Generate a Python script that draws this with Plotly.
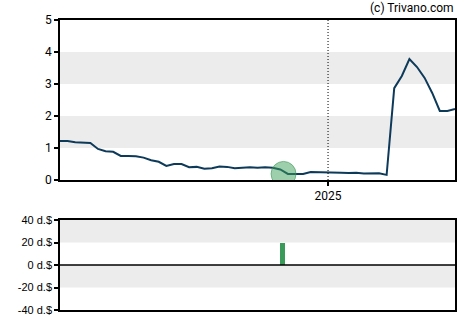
import plotly.graph_objects as go
import pandas as pd

start = "2024-04-29"
prices = [1.22, 1.22, 1.18, 1.16, 1.16, 0.97, 0.90, 0.88, 0.75, 0.75,
          0.74, 0.70, 0.62, 0.57, 0.44, 0.50, 0.50, 0.40, 0.41, 0.35,
          0.37, 0.42, 0.41, 0.37, 0.38, 0.40, 0.38, 0.40, 0.38, 0.33,
          0.19, 0.19, 0.19, 0.25, 0.25, 0.25, 0.24, 0.23, 0.22, 0.23,
          0.20, 0.21, 0.21, 0.16, 2.87, 3.25, 3.78, 3.53, 3.19, 2.72,
          2.16, 2.16, 2.22]
dates = pd.date_range(start, periods=len(prices), freq="7D")

marker_date = ["2024-11-21"]
marker_value = [0.19]
bar_dates = ["2024-11-20"]
bar_values = [20]
year_label = "2025"
year_date = "2025-01-01"

W, H = 470, 325
x0d, x1d = 60 / W, 455 / W
top_dom = [(H - 180) / H, (H - 20) / H]
bot_dom = [(H - 310) / H, (H - 220) / H]
xrange = [dates[0], dates[-1]]

fig = go.Figure()
fig.add_trace(go.Scatter(x=dates, y=prices, mode="lines",
                         line=dict(color="#0e3a5a", width=2), xaxis="x", yaxis="y",
                         hoverinfo="skip"))
fig.add_trace(go.Scatter(x=pd.to_datetime(marker_date), y=marker_value, mode="markers",
                         marker=dict(size=25, color="rgba(60,160,90,0.5)",
                                     line=dict(color="rgba(60,150,85,0.6)", width=1)),
                         xaxis="x", yaxis="y"))
fig.add_trace(go.Bar(x=pd.to_datetime(bar_dates), y=bar_values, width=4.3 * 86400000,
                     marker=dict(color="#3a9a5a", line=dict(width=0)),
                     xaxis="x2", yaxis="y2"))

shapes = []
for a, b in [(1, 2), (3, 4)]:
    shapes.append(dict(type="rect", xref="x domain", yref="y", x0=0, x1=1, y0=a, y1=b,
                       fillcolor="#ececec", line=dict(width=0), layer="below"))
for a, b in [(20, 40), (-20, 0)]:
    shapes.append(dict(type="rect", xref="x2 domain", yref="y2", x0=0, x1=1, y0=a, y1=b,
                       fillcolor="#ececec", line=dict(width=0), layer="below"))
shapes.append(dict(type="line", xref="x", yref="y domain", x0=year_date, x1=year_date,
                   y0=0, y1=1, line=dict(color="#000", width=1, dash="1px,2px")))
shapes.append(dict(type="line", xref="x2 domain", yref="y2", x0=0, x1=1, y0=0, y1=0,
                   line=dict(color="#000", width=1.5)))

axis_common = dict(showline=True, linecolor="#000", linewidth=1.5, mirror=True,
                   showgrid=False, zeroline=False, automargin=False)

fig.update_layout(
    template="none",
    width=W, height=H, margin=dict(l=0, r=0, t=0, b=0, pad=0),
    paper_bgcolor="white", plot_bgcolor="white", showlegend=False,
    font=dict(family="Roboto", size=12, color="#000"),
    shapes=shapes,
    xaxis=dict(domain=[x0d, x1d], anchor="y", range=xrange, tickvals=[year_date],
               ticktext=[year_label], ticks="outside", ticklen=4, tickwidth=1.5,
               tickcolor="#000", tickfont=dict(size=12), **axis_common),
    yaxis=dict(domain=top_dom, anchor="x", range=[0, 5], tickvals=[0, 1, 2, 3, 4, 5],
               ticks="outside", ticklen=4, tickwidth=1.5, tickcolor="#000",
               tickfont=dict(size=12), **axis_common),
    xaxis2=dict(domain=[x0d, x1d], anchor="y2", range=xrange, showticklabels=False,
                ticks="", **axis_common),
    yaxis2=dict(domain=bot_dom, anchor="x2", range=[-40, 40],
                tickvals=[-40, -20, 0, 20, 40],
                ticktext=["-40 d.$", "-20 d.$", "0 d.$", "20 d.$", "40 d.$"],
                ticks="outside", ticklen=4, tickwidth=1.5, tickcolor="#000",
                tickfont=dict(family="Liberation Sans, Arial", size=11), **axis_common),
    annotations=[dict(text="(c) Trivano.com", xref="paper", yref="paper",
                      x=456 / W, y=1 - 8 / H, xanchor="right", yanchor="middle",
                      showarrow=False, font=dict(size=12, color="#000"))],
    bargap=0,
)

fig.write_html("out.html")
